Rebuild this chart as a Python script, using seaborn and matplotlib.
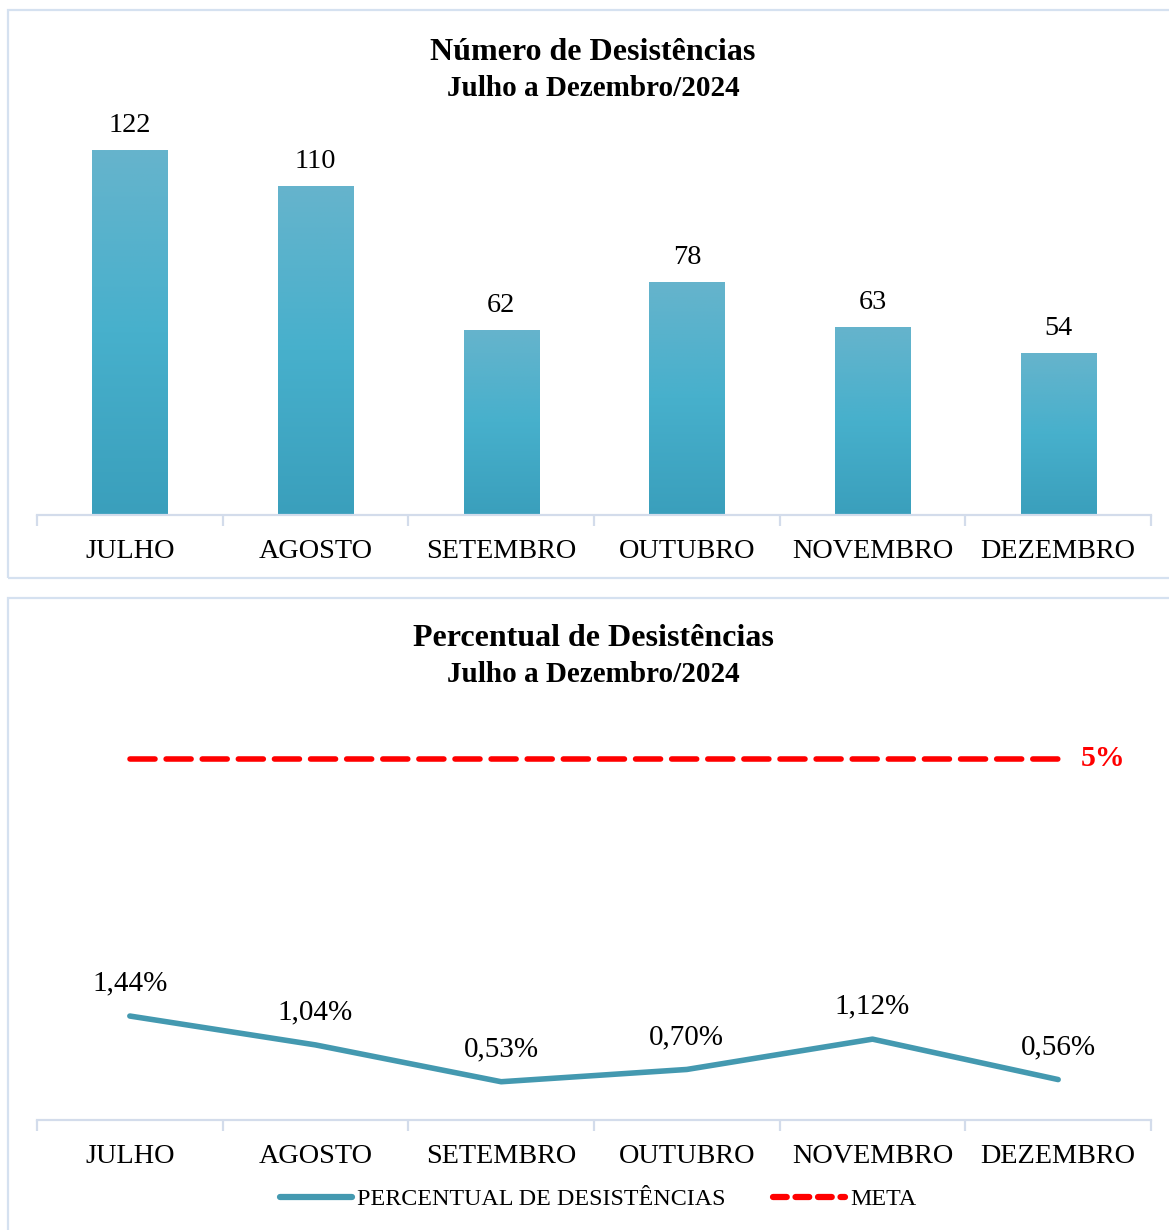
import numpy as np
import matplotlib.pyplot as plt
import seaborn as sns
import pandas as pd
from matplotlib.patches import Rectangle
from matplotlib.lines import Line2D
from matplotlib.colors import LinearSegmentedColormap

meses = ["JULHO", "AGOSTO", "SETEMBRO", "OUTUBRO", "NOVEMBRO", "DEZEMBRO"]
desistencias = [122, 110, 62, 78, 63, 54]
percentual = [1.44, 1.04, 0.53, 0.70, 1.12, 0.56]
rotulos_pct = ["1,44%", "1,04%", "0,53%", "0,70%", "1,12%", "0,56%"]
meta = [5, 5, 5, 5, 5, 5]

sns.set_style("white")
plt.rcParams['font.family'] = ['Liberation Serif', 'DejaVu Serif']
plt.rcParams['text.color'] = 'black'
plt.rcParams['xtick.labelcolor'] = 'black'

W, H = 1169, 1230
fig = plt.figure(figsize=(W / 100, H / 100), dpi=100)

borda = "#d5e1f0"
eixo = "#d3dceb"
teal = "#4499b0"


def px_axes(left, top, right, bottom):
    return fig.add_axes([left / W, 1 - bottom / H, (right - left) / W, (bottom - top) / H])


# molduras dos dois paineis
fig.patches.append(Rectangle((8 / W, 1 - 578 / H), 1.2, (578 - 10) / H, transform=fig.transFigure,
                             fill=False, edgecolor=borda, linewidth=1.6))
fig.patches.append(Rectangle((8 / W, -0.1), 1.2, 0.1 + (1230 - 598) / H, transform=fig.transFigure,
                             fill=False, edgecolor=borda, linewidth=1.6))


def estilo_eixo(ax):
    for s in ["top", "right", "left"]:
        ax.spines[s].set_visible(False)
    ax.spines["bottom"].set_color(eixo)
    ax.spines["bottom"].set_linewidth(1.6)
    ax.set_yticks([])
    ax.set_xlim(-0.5, 5.5)
    ax.set_xticks(range(6))
    ax.set_xticklabels(meses, fontsize=20.3, color="black")
    ax.set_xticks(np.arange(-0.5, 6, 1), minor=True)
    ax.tick_params(axis="x", which="major", length=0, pad=17)
    ax.tick_params(axis="x", which="minor", bottom=True, length=8, width=1.6, color=eixo)
    ax.set_xlabel("")
    ax.set_ylabel("")


# ---- painel 1: barras
ax1 = px_axes(37, 100, 1151, 515)
df = pd.DataFrame(dict(mes=meses, valor=desistencias))
sns.barplot(data=df, x="mes", y="valor", color="#48b0cc", width=0.405, ax=ax1, saturation=1)
ax1.set_ylim(0, 122 * 415 / 365)
grad = LinearSegmentedColormap.from_list("g", ["#3a9fbc", "#47b0cc", "#66b4cc"])
for p in ax1.patches:
    x0, w, h = p.get_x(), p.get_width(), p.get_height()
    img = ax1.imshow(np.linspace(0, 1, 256).reshape(-1, 1), cmap=grad, origin="lower",
                     extent=[x0, x0 + w, 0, h], aspect="auto", zorder=p.get_zorder() + 0.1)
    img.set_clip_path(p)
    ax1.text(x0 + w / 2, h + 4, str(int(h)), ha="center", va="bottom", fontsize=20.3)
ax1.set_xlim(-0.5, 5.5)
ax1.set_ylim(0, 122 * 415 / 365)
estilo_eixo(ax1)
fig.text(593 / W, 1 - 53 / H, "Número de Desistências", ha="center", va="center",
         fontsize=23, fontweight="bold")
fig.text(593 / W, 1 - 88 / H, "Julho a Dezembro/2024", ha="center", va="center",
         fontsize=21, fontweight="bold")

# ---- painel 2: linhas
ax2 = px_axes(37, 700, 1151, 1120)
dfl = pd.DataFrame(dict(mes=meses, pct=percentual, meta=meta))
sns.lineplot(data=dfl, x="mes", y="pct", color=teal, linewidth=4, ax=ax2)
sns.lineplot(data=dfl, x="mes", y="meta", color="#ff0000", linewidth=4, ax=ax2,
             linestyle=(0, (4.5, 2)), dash_capstyle="round")
for ln in ax2.lines:
    ln.set_solid_capstyle("round")
    ln.set_dash_capstyle("round")
ax2.set_ylim(0, 420 / 72.2)
for i, (v, t) in enumerate(zip(percentual, rotulos_pct)):
    ax2.annotate(t, (i, v), xytext=(0, 14), textcoords="offset points", ha="center",
                 va="bottom", fontsize=21)
ax2.annotate("5%", (5, meta[-1]), xytext=(32, 0), textcoords="offset points", ha="center",
             va="center", fontsize=21.5, fontweight="bold", color="#ff0000")
estilo_eixo(ax2)
fig.text(593 / W, 1 - 639 / H, "Percentual de Desistências", ha="center", va="center",
         fontsize=23, fontweight="bold")
fig.text(593 / W, 1 - 674 / H, "Julho a Dezembro/2024", ha="center", va="center",
         fontsize=21, fontweight="bold")

handles = [Line2D([], [], color=teal, linewidth=4.5, solid_capstyle="round"),
           Line2D([], [], color="#ff0000", linewidth=4.5, linestyle=(0, (2.2, 1.4)),
                  dash_capstyle="round")]
fig.legend(handles, ["PERCENTUAL DE DESISTÊNCIAS", "META"], loc="center",
           bbox_to_anchor=(598 / W, 1 - 1199 / H), ncol=2, frameon=False, fontsize=17.3,
           handlelength=3.0, handletextpad=0.2, columnspacing=2.0)

fig.savefig("out.png", dpi=100)
